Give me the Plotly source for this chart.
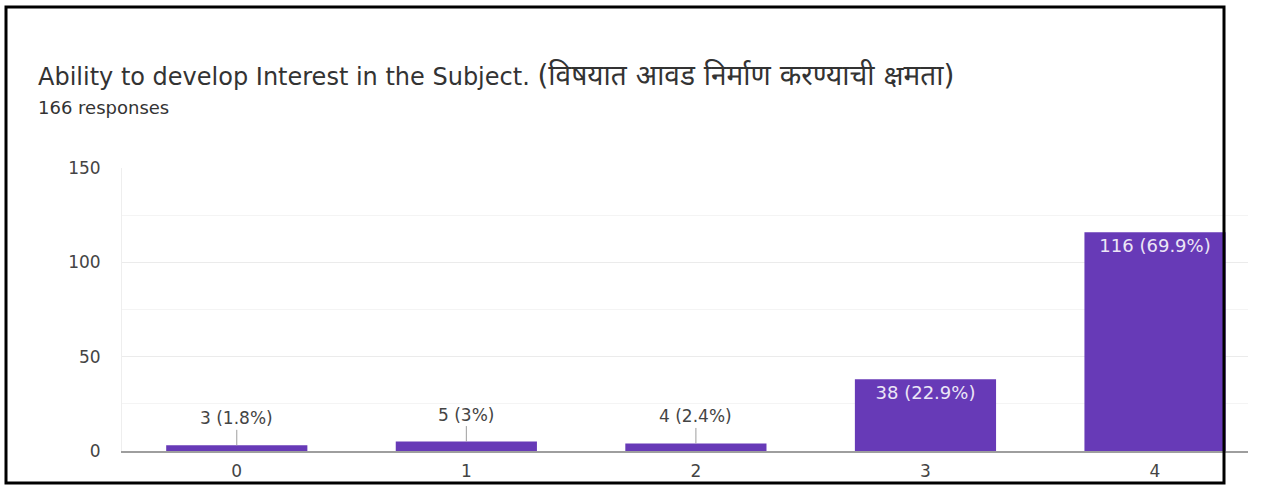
import plotly.graph_objects as go

categories = ["0", "1", "2", "3", "4"]
counts = [3, 5, 4, 38, 116]
percent_labels = ["1.8%", "3%", "2.4%", "22.9%", "69.9%"]
y_ticks = [0, 50, 100, 150]

title_latin = "Ability to develop Interest in the Subject."
title_marathi = "(विषयात आवड निर्माण करण्याची क्षमता)"
subtitle_text = "166 responses"

W, H = 1264, 485
L, R, T, B = 122, 16, 168, 34
pw, ph = W - L - R, H - T - B

def px_x(x):
    return (x - L) / pw

def px_y(y):
    return (H - B - y) / ph

FONT = "DejaVu Sans, Noto Sans, sans-serif"

xs = list(range(len(categories)))
labels = [f"{c} ({p})" for c, p in zip(counts, percent_labels)]
inside = [c > 20 for c in counts]

fig = go.Figure()
fig.add_trace(go.Bar(
    x=xs, y=counts, width=0.615,
    marker=dict(color="#673ab7", line=dict(width=0)),
    text=[lab if ins else "" for lab, ins in zip(labels, inside)],
    textposition="inside", insidetextanchor="end",
    textfont=dict(family=FONT, size=18, color="#ece6f6"),
    hoverinfo="skip",
))

annotations = []
for x, c, lab, ins in zip(xs, counts, labels, inside):
    if not ins:
        annotations.append(dict(
            x=x, y=c, xref="x", yref="y", text=lab,
            showarrow=True, arrowhead=0, arrowwidth=1, arrowcolor="#9e9e9e",
            ax=0, ay=-27, standoff=0,
            font=dict(family=FONT, size=17, color="#444444"),
        ))

annotations.append(dict(
    x=px_x(36), y=px_y(75), xref="paper", yref="paper", xanchor="left", yanchor="middle",
    text=f"{title_latin} <span style='font-size:28px'>{title_marathi}</span>", showarrow=False,
    font=dict(family=FONT, size=24, color="#333333"),
))
annotations.append(dict(
    x=px_x(36), y=px_y(107), xref="paper", yref="paper", xanchor="left", yanchor="middle",
    text=subtitle_text, showarrow=False,
    font=dict(family=FONT, size=18, color="#333333"),
))

shapes = [dict(
    type="rect", xref="paper", yref="paper",
    x0=px_x(6), x1=px_x(1224), y0=px_y(483), y1=px_y(7),
    line=dict(color="#000000", width=3), fillcolor="rgba(0,0,0,0)", layer="above",
)]

fig.update_layout(
    width=W, height=H,
    margin=dict(l=L, r=R, t=T, b=B, pad=0, autoexpand=False),
    paper_bgcolor="white", plot_bgcolor="white",
    showlegend=False,
    annotations=annotations, shapes=shapes,
    xaxis=dict(
        range=[-0.5, 4.405], tickvals=xs, ticktext=categories,
        showgrid=False, zeroline=False, automargin=False,
        showline=True, linecolor="#9e9e9e", linewidth=2,
        ticks="outside", ticklen=4, tickcolor="rgba(0,0,0,0)",
        tickfont=dict(family=FONT, size=17, color="#444444"),
    ),
    yaxis=dict(
        range=[0, 150], tickvals=y_ticks, automargin=False,
        showgrid=True, gridcolor="#ebebeb", gridwidth=1,
        minor=dict(dtick=25, tick0=0, showgrid=True, gridcolor="#f4f4f4", gridwidth=1),
        zeroline=False, showline=True, linecolor="#eeeeee", linewidth=1,
        ticks="outside", ticklen=17, tickcolor="rgba(0,0,0,0)",
        tickfont=dict(family=FONT, size=17, color="#444444"),
    ),
)

fig.write_html("out.html")
